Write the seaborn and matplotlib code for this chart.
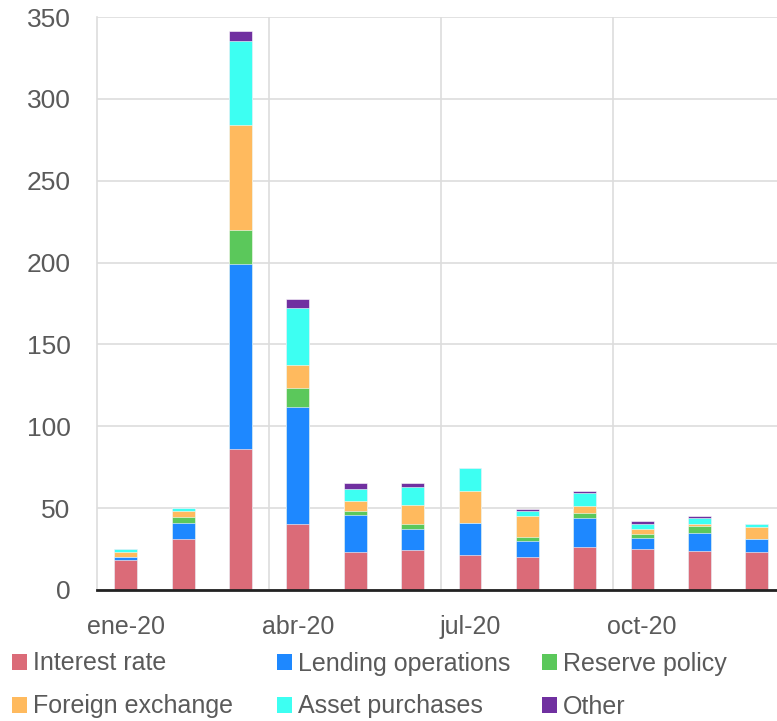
import numpy as np
import pandas as pd
import matplotlib
matplotlib.use("Agg")
import matplotlib.pyplot as plt
from matplotlib.patches import Patch
import seaborn as sns

# Monthly data (2020)
months = ["ene-20", "feb-20", "mar-20", "abr-20", "may-20", "jun-20",
          "jul-20", "ago-20", "sep-20", "oct-20", "nov-20", "dic-20"]
interest_rate = [18.3, 31.0, 86.0, 40.3, 23.2, 24.2, 21.2, 20.2, 26.1, 25.0, 24.0, 23.4]
lending_ops = [2.0, 10.0, 113.0, 71.5, 22.8, 12.9, 19.9, 9.9, 18.1, 7.0, 11.0, 7.8]
reserve_policy = [0.0, 3.7, 21.0, 11.6, 2.3, 3.0, 0.0, 2.1, 3.0, 2.2, 4.3, 0.0]
foreign_exchange = [2.9, 3.3, 64.0, 14.0, 5.9, 12.0, 19.2, 12.8, 3.9, 2.9, 1.2, 7.1]
asset_purchases = [1.8, 2.0, 51.5, 35.0, 7.7, 11.0, 14.0, 3.4, 8.2, 3.2, 3.5, 2.0]
other = [0.0, 0.0, 6.0, 5.5, 3.5, 2.3, 0.0, 1.1, 1.2, 1.9, 1.2, 0.0]

series_names = ["Interest rate", "Lending operations", "Reserve policy",
                "Foreign exchange", "Asset purchases", "Other"]
colors = ["#DB6B78", "#1E88FF", "#5BC85B", "#FFBA5E", "#3DFFF2", "#7030A0"]

df = pd.DataFrame({
    "month": months,
    "Interest rate": interest_rate,
    "Lending operations": lending_ops,
    "Reserve policy": reserve_policy,
    "Foreign exchange": foreign_exchange,
    "Asset purchases": asset_purchases,
    "Other": other,
})

# cumulative sums for stacking
cum = df[series_names].cumsum(axis=1)

sns.set_style("white")
plt.rcParams["font.family"] = ["Liberation Sans", "DejaVu Sans"]
text_col = "#5a5a5a"

fig = plt.figure(figsize=(7.77, 7.21), dpi=100)
ax = fig.add_axes([0.1248, 0.1817, 0.8752, 0.7947])

# draw tallest first so lower segments sit on top
for name, col in reversed(list(zip(series_names, colors))):
    sns.barplot(x=df["month"], y=cum[name], color=col, width=0.4,
                edgecolor="white", linewidth=0.4, saturation=1, ax=ax)

ax.set_ylim(0, 350)
ax.set_xlim(-0.5, 11.35)
ax.set_yticks(np.arange(0, 351, 50))
ax.set_xticks([0, 3, 6, 9])
ax.set_xticklabels([months[i] for i in [0, 3, 6, 9]])
ax.set_xlabel("")
ax.set_ylabel("")

ax.grid(axis="y", color="#dddddd", linewidth=1.2)
for xv in [2.5, 5.5, 8.5]:
    ax.axvline(xv, color="#dddddd", linewidth=1.2, zorder=0)
ax.set_axisbelow(True)

for s in ["top", "right"]:
    ax.spines[s].set_visible(False)
ax.spines["left"].set_color("#dddddd")
ax.spines["left"].set_linewidth(1.2)
ax.spines["bottom"].set_color("#222222")
ax.spines["bottom"].set_linewidth(2)

ax.tick_params(axis="y", length=0, pad=19, labelsize=19, labelcolor=text_col)
ax.tick_params(axis="x", length=0, pad=18, labelsize=18, labelcolor=text_col)

# legend: three columns placed at fixed positions, two rows each
W, H = 777, 721
col_x = [12, 277, 542]
for c, x0 in enumerate(col_x):
    idx = [c, c + 3]
    handles = [Patch(facecolor=colors[i], edgecolor="none") for i in idx]
    labels = [series_names[i] for i in idx]
    leg = fig.legend(handles, labels, loc="center left",
                     bbox_to_anchor=(x0 / W, 1 - 685 / H),
                     frameon=False, fontsize=18, handlelength=0.6,
                     handleheight=0.6, handletextpad=0.25,
                     labelspacing=0.76, borderaxespad=0.0, borderpad=0.0)
    for t in leg.get_texts():
        t.set_color(text_col)

fig.savefig("out.png", dpi=100)
